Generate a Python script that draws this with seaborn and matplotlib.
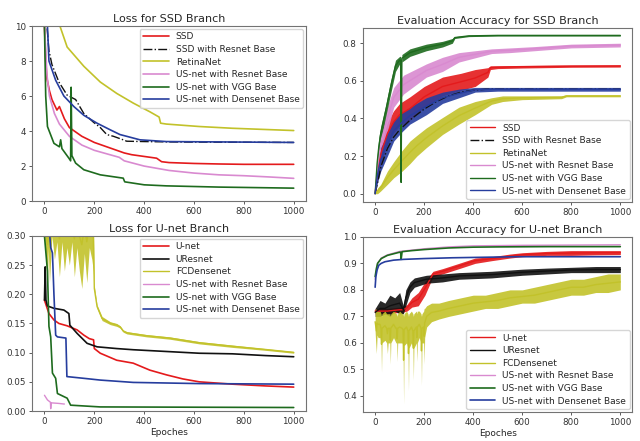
import numpy as np
import pandas as pd
import matplotlib
matplotlib.use("Agg")
import matplotlib.pyplot as plt
import seaborn as sns

# ---------------- data ----------------
top_labels = ["SSD", "SSD with Resnet Base", "RetinaNet",
              "US-net with Resnet Base", "US-net with VGG Base", "US-net with Densenet Base"]
bot_labels = ["U-net", "UResnet", "FCDensenet",
              "US-net with Resnet Base", "US-net with VGG Base", "US-net with Densenet Base"]
titles = ["Loss for SSD Branch", "Evaluation Accuracy for SSD Branch",
          "Loss for U-net Branch", "Evaluation Accuracy for U-net Branch"]
xticks = [0, 200, 400, 600, 800, 1000]

# --- Loss for SSD Branch ---
l1_ssd_x = [0, 5, 10, 20, 30, 50, 60, 80, 100, 150, 200, 250, 300, 320, 350, 400, 450, 470, 500, 600, 700, 800, 900, 1000]
l1_ssd_y = [10, 8, 7, 6.3, 5.8, 5.2, 5.4, 4.7, 4.2, 3.7, 3.35, 3.1, 2.85, 2.75, 2.65, 2.55, 2.45, 2.25, 2.2, 2.15, 2.12, 2.1, 2.1, 2.1]
l1_res_x = [0, 10, 18, 30, 58, 91, 125, 158, 197, 224, 250, 277, 316, 330, 400, 500, 600, 800, 1000]
l1_res_y = [14, 10, 8.6, 7.8, 6.8, 6.05, 5.8, 5.0, 4.5, 4.2, 3.8, 3.7, 3.5, 3.42, 3.4, 3.38, 3.37, 3.36, 3.35]
l1_ret_x = [0, 30, 62, 91, 158, 224, 290, 356, 423, 460, 466, 489, 621, 754, 1000]
l1_ret_y = [20, 13, 10, 8.8, 7.7, 6.8, 6.15, 5.6, 5.1, 4.8, 4.45, 4.4, 4.26, 4.16, 4.03]
l1_usr_x = [0, 10, 20, 40, 60, 100, 150, 200, 300, 320, 400, 500, 600, 700, 800, 900, 1000]
l1_usr_y = [10, 7.2, 6.0, 5.0, 4.4, 3.7, 3.2, 2.9, 2.5, 2.3, 2.0, 1.75, 1.6, 1.5, 1.45, 1.38, 1.3]
l1_vgg_x = [0, 5, 12, 38, 60, 65, 70, 98, 105, 107, 110, 125, 158, 224, 316, 322, 400, 489, 700, 1000]
l1_vgg_y = [10, 6.0, 4.26, 3.3, 3.1, 3.5, 3.0, 2.45, 2.3, 6.5, 2.6, 2.17, 1.79, 1.5, 1.31, 1.1, 0.93, 0.87, 0.8, 0.74]
l1_den_x = [0, 12, 18, 45, 78, 118, 158, 211, 264, 303, 330, 383, 489, 700, 1000]
l1_den_y = [14, 10, 8.0, 6.9, 6.0, 5.4, 4.9, 4.45, 4.07, 3.8, 3.7, 3.5, 3.4, 3.38, 3.35]

# --- Evaluation Accuracy for SSD Branch (noise band: low / high) ---
a1_ssd_x = [0, 10, 25, 50, 75, 100, 142, 200, 275, 350, 408, 460, 470, 500, 600, 700, 800, 1000]
a1_ssd_lo = [0.0, 0.08, 0.17, 0.26, 0.32, 0.36, 0.39, 0.46, 0.52, 0.55, 0.57, 0.62, 0.66, 0.665, 0.668, 0.67, 0.672, 0.673]
a1_ssd_hi = [0.0, 0.16, 0.27, 0.38, 0.44, 0.48, 0.515, 0.57, 0.62, 0.64, 0.66, 0.67, 0.68, 0.68, 0.682, 0.683, 0.684, 0.685]
a1_res_x = [0, 25, 50, 75, 100, 125, 150, 200, 250, 300, 350, 400, 450, 500, 600, 800, 1000]
a1_res_y = [0, 0.15, 0.24, 0.3, 0.34, 0.37, 0.4, 0.45, 0.49, 0.52, 0.54, 0.55, 0.555, 0.555, 0.555, 0.555, 0.555]
a1_ret_x = [0, 10, 23, 50, 76, 110, 142, 170, 209, 275, 342, 408, 475, 520, 600, 760, 780, 1000]
a1_ret_lo = [0.0, 0.0, 0.015, 0.05, 0.085, 0.12, 0.16, 0.2, 0.245, 0.315, 0.37, 0.42, 0.475, 0.49, 0.5, 0.505, 0.515, 0.515]
a1_ret_hi = [0.0, 0.03, 0.05, 0.12, 0.17, 0.23, 0.28, 0.31, 0.35, 0.405, 0.46, 0.49, 0.51, 0.52, 0.52, 0.52, 0.525, 0.525]
a1_usr_x = [0, 10, 25, 49, 76, 116, 209, 275, 342, 475, 550, 650, 800, 1000]
a1_usr_lo = [0.0, 0.1, 0.22, 0.33, 0.46, 0.53, 0.62, 0.65, 0.7, 0.745, 0.75, 0.76, 0.775, 0.78]
a1_usr_hi = [0.0, 0.2, 0.35, 0.46, 0.565, 0.63, 0.69, 0.725, 0.75, 0.77, 0.775, 0.782, 0.795, 0.8]
a1_vgg_x = [0, 8, 15, 23, 43, 63, 83, 100, 104, 106, 109, 142, 209, 275, 315, 325, 382, 500, 1000]
a1_vgg_lo = [0.0, 0.12, 0.2, 0.28, 0.41, 0.53, 0.65, 0.69, 0.69, 0.06, 0.7, 0.73, 0.76, 0.78, 0.8, 0.825, 0.835, 0.838, 0.838]
a1_vgg_hi = [0.0, 0.2, 0.3, 0.36, 0.47, 0.6, 0.71, 0.73, 0.73, 0.06, 0.74, 0.77, 0.795, 0.81, 0.825, 0.835, 0.843, 0.845, 0.845]
a1_den_x = [0, 10, 23, 50, 76, 110, 142, 209, 275, 342, 408, 500, 700, 1000]
a1_den_lo = [0.0, 0.06, 0.12, 0.2, 0.28, 0.33, 0.37, 0.42, 0.48, 0.51, 0.54, 0.545, 0.545, 0.545]
a1_den_hi = [0.0, 0.15, 0.245, 0.32, 0.39, 0.43, 0.46, 0.51, 0.54, 0.556, 0.565, 0.565, 0.565, 0.565]

# --- Loss for U-net Branch ---
l2_unet_x = [0, 18, 38, 58, 91, 131, 158, 180, 197, 200, 224, 290, 356, 423, 489, 555, 621, 754, 886, 1000]
l2_unet_y = [0.19, 0.167, 0.156, 0.15, 0.146, 0.139, 0.13, 0.124, 0.122, 0.107, 0.099, 0.087, 0.082, 0.07, 0.062, 0.055, 0.05, 0.046, 0.043, 0.041]
l2_ures_x = [0, 3, 6, 12, 38, 78, 98, 102, 131, 171, 211, 290, 356, 489, 621, 754, 886, 1000]
l2_ures_y = [0.19, 0.247, 0.19, 0.18, 0.176, 0.173, 0.167, 0.147, 0.133, 0.116, 0.11, 0.107, 0.105, 0.102, 0.099, 0.098, 0.095, 0.093]
l2_fcd_x = [0, 8, 12, 15, 20, 30, 40, 50, 60, 70, 80, 90, 100, 110, 120, 130, 140, 150, 160, 170, 180, 190, 196,
            200, 211, 231, 264, 290, 304, 316, 331, 410, 503, 621, 754, 886, 1000]
l2_fcd_lo = [0.30, 0.24, 0.21, 0.28, 0.22, 0.30, 0.26, 0.29, 0.23, 0.29, 0.24, 0.28, 0.25, 0.29, 0.23, 0.28, 0.24, 0.21, 0.27, 0.22, 0.28, 0.26, 0.24,
             0.205, 0.176, 0.155, 0.148, 0.145, 0.142, 0.135, 0.132, 0.127, 0.123, 0.115, 0.109, 0.104, 0.099]
l2_fcd_hi = [0.36, 0.36, 0.36, 0.36, 0.36, 0.36, 0.36, 0.36, 0.36, 0.36, 0.36, 0.36, 0.36, 0.36, 0.36, 0.36, 0.36, 0.36, 0.36, 0.36, 0.36, 0.36, 0.36,
             0.215, 0.182, 0.162, 0.153, 0.15, 0.146, 0.139, 0.136, 0.131, 0.127, 0.119, 0.113, 0.107, 0.102]
l2_usr_x = [0, 12, 24, 25, 27, 58, 78, 80]
l2_usr_y = [0.027, 0.019, 0.015, 0.004, 0.014, 0.013, 0.012, 0.012]
l2_vgg_x = [0, 12, 18, 25, 32, 45, 52, 91, 105, 224, 1000]
l2_vgg_y = [0.30, 0.24, 0.145, 0.127, 0.065, 0.056, 0.03, 0.022, 0.01, 0.007, 0.006]
l2_den_x = [18, 25, 32, 38, 45, 52, 86, 90, 158, 224, 356, 621, 1000]
l2_den_y = [0.32, 0.28, 0.271, 0.2, 0.13, 0.127, 0.125, 0.059, 0.056, 0.053, 0.049, 0.047, 0.046]

# --- Evaluation Accuracy for U-net Branch ---
a2_unet_x = [0, 50, 100, 110, 130, 150, 176, 203, 236, 275, 342, 408, 475, 550, 600, 700, 800, 900, 1000]
a2_unet_lo = [0.71, 0.71, 0.715, 0.715, 0.72, 0.735, 0.74, 0.78, 0.85, 0.86, 0.88, 0.9, 0.91, 0.92, 0.925, 0.93, 0.93, 0.932, 0.933]
a2_unet_hi = [0.73, 0.73, 0.735, 0.735, 0.745, 0.77, 0.79, 0.83, 0.87, 0.88, 0.9, 0.92, 0.925, 0.935, 0.94, 0.945, 0.948, 0.948, 0.948]
a2_ures_x = [0, 20, 40, 60, 80, 100, 115, 125, 142, 160, 209, 275, 342, 475, 600, 700, 800, 900, 1000]
a2_ures_lo = [0.70, 0.70, 0.71, 0.70, 0.72, 0.71, 0.71, 0.74, 0.79, 0.81, 0.825, 0.83, 0.84, 0.845, 0.855, 0.86, 0.865, 0.865, 0.865]
a2_ures_hi = [0.73, 0.76, 0.75, 0.78, 0.77, 0.79, 0.74, 0.8, 0.83, 0.845, 0.855, 0.86, 0.865, 0.87, 0.878, 0.882, 0.885, 0.888, 0.888]
a2_fcd_x = [0, 5, 8, 12, 20, 24, 26, 28, 40, 47, 50, 53, 60, 62, 64, 75, 85, 88, 90, 92, 100, 110, 114, 116, 118,
            128, 134, 136, 138, 148, 154, 156, 158, 168, 170, 172, 180, 187, 189, 191, 198, 200, 202,
            210, 230, 260, 300, 350, 400, 450, 500, 550, 600, 650, 700, 750, 800, 850, 900, 950, 1000]
a2_fcd_lo = [0.64, 0.56, 0.63, 0.62, 0.62, 0.6, 0.49, 0.6, 0.61, 0.6, 0.56, 0.6, 0.6, 0.52, 0.6, 0.62, 0.6, 0.6, 0.53, 0.6,
             0.6, 0.6, 0.59, 0.37, 0.59, 0.6, 0.58, 0.42, 0.58, 0.6, 0.58, 0.46, 0.58, 0.6, 0.53, 0.6, 0.62, 0.6, 0.44, 0.6,
             0.6, 0.52, 0.62, 0.66, 0.68, 0.69, 0.7, 0.71, 0.72, 0.73, 0.73, 0.74, 0.75, 0.75, 0.76, 0.77, 0.78, 0.78,
             0.79, 0.79, 0.8]
a2_fcd_hi = [0.72, 0.73, 0.72, 0.72, 0.72, 0.71, 0.7, 0.71, 0.72, 0.71, 0.71, 0.71, 0.71, 0.7, 0.71, 0.72, 0.71, 0.71, 0.7, 0.71,
             0.72, 0.71, 0.71, 0.7, 0.71, 0.72, 0.71, 0.7, 0.71, 0.72, 0.71, 0.7, 0.71, 0.72, 0.71, 0.72, 0.72, 0.71, 0.7, 0.71,
             0.72, 0.73, 0.73, 0.74, 0.75, 0.75, 0.76, 0.77, 0.78, 0.78, 0.79, 0.8, 0.8, 0.81, 0.82, 0.83, 0.84, 0.84,
             0.85, 0.86, 0.86]
a2_usr_x = [0, 10, 25, 50, 100, 200, 300, 400, 600, 800, 1000]
a2_usr_y = [0.84, 0.9, 0.92, 0.932, 0.945, 0.955, 0.962, 0.966, 0.968, 0.969, 0.97]
a2_vgg_x = [0, 5, 10, 25, 50, 100, 104, 106, 110, 150, 200, 300, 400, 500, 700, 1000]
a2_vgg_y = [0.85, 0.88, 0.9, 0.918, 0.93, 0.942, 0.942, 0.915, 0.944, 0.948, 0.952, 0.958, 0.961, 0.962, 0.963, 0.963]
a2_den_x = [0, 3, 8, 15, 25, 40, 75, 116, 200, 315, 450, 581, 800, 1000]
a2_den_y = [0.81, 0.85, 0.875, 0.893, 0.9, 0.906, 0.912, 0.915, 0.918, 0.921, 0.923, 0.925, 0.925, 0.925]

# ---------------- style ----------------
C_RED = "#e41a1c"
C_BLK = "#111111"
C_YEL = "#c2c22a"
C_PNK = "#d98ad0"
C_GRN = "#1e6b1e"
C_BLU = "#263d9e"

sns.set_style("white")
plt.rcParams["font.family"] = ["DejaVu Sans"]
plt.rcParams["font.size"] = 6

fig = plt.figure(figsize=(6.4, 4.41), dpi=100)
pos = [[0.05, 0.544, 0.428, 0.397],
       [0.567, 0.542, 0.421, 0.395],
       [0.05, 0.068, 0.428, 0.397],
       [0.567, 0.066, 0.421, 0.397]]
axes = [fig.add_axes(p) for p in pos]


def line(ax, x, y, color, label, lw=1.0, ls="-"):
    sns.lineplot(x=x, y=y, ax=ax, color=color, lw=lw, linestyle=ls,
                 label=label, estimator=None)


def band(ax, x, lo, hi, color, label, lw=1.0):
    df = pd.DataFrame({"x": list(x) + list(x), "y": list(lo) + list(hi)})
    sns.lineplot(data=df, x="x", y="y", ax=ax, color=color, lw=lw, label=label,
                 errorbar=("pi", 100), err_kws={"alpha": 0.9, "linewidth": 0})


ax = axes[0]
line(ax, l1_ssd_x, l1_ssd_y, C_RED, top_labels[0], 1.2)
line(ax, l1_res_x, l1_res_y, C_BLK, top_labels[1], 1.0, "-.")
line(ax, l1_ret_x, l1_ret_y, C_YEL, top_labels[2], 1.2)
line(ax, l1_usr_x, l1_usr_y, C_PNK, top_labels[3], 1.2)
line(ax, l1_vgg_x, l1_vgg_y, C_GRN, top_labels[4], 1.2)
line(ax, l1_den_x, l1_den_y, C_BLU, top_labels[5], 1.2)
ax.set_ylim(0, 10)
ax.set_yticks([0, 2, 4, 6, 8, 10])

ax = axes[1]
band(ax, a1_ssd_x, a1_ssd_lo, a1_ssd_hi, C_RED, top_labels[0])
line(ax, a1_res_x, a1_res_y, C_BLK, top_labels[1], 1.0, "-.")
band(ax, a1_ret_x, a1_ret_lo, a1_ret_hi, C_YEL, top_labels[2])
band(ax, a1_usr_x, a1_usr_lo, a1_usr_hi, C_PNK, top_labels[3])
band(ax, a1_vgg_x, a1_vgg_lo, a1_vgg_hi, C_GRN, top_labels[4])
band(ax, a1_den_x, a1_den_lo, a1_den_hi, C_BLU, top_labels[5])
ax.set_ylim(-0.044, 0.882)
ax.set_yticks([0.0, 0.2, 0.4, 0.6, 0.8])

ax = axes[2]
line(ax, l2_unet_x, l2_unet_y, C_RED, bot_labels[0], 1.2)
line(ax, l2_ures_x, l2_ures_y, C_BLK, bot_labels[1], 1.2)
band(ax, l2_fcd_x, l2_fcd_lo, l2_fcd_hi, C_YEL, bot_labels[2])
line(ax, l2_usr_x, l2_usr_y, C_PNK, bot_labels[3], 1.0)
line(ax, l2_vgg_x, l2_vgg_y, C_GRN, bot_labels[4], 1.2)
line(ax, l2_den_x, l2_den_y, C_BLU, bot_labels[5], 1.2)
ax.set_ylim(0, 0.30)
ax.set_yticks([0.0, 0.05, 0.10, 0.15, 0.20, 0.25, 0.30])
ax.set_yticklabels(["0.00", "0.05", "0.10", "0.15", "0.20", "0.25", "0.30"])

ax = axes[3]
band(ax, a2_unet_x, a2_unet_lo, a2_unet_hi, C_RED, bot_labels[0])
band(ax, a2_ures_x, a2_ures_lo, a2_ures_hi, C_BLK, bot_labels[1])
band(ax, a2_fcd_x, a2_fcd_lo, a2_fcd_hi, C_YEL, bot_labels[2])
line(ax, a2_usr_x, a2_usr_y, C_PNK, bot_labels[3], 1.0)
line(ax, a2_vgg_x, a2_vgg_y, C_GRN, bot_labels[4], 1.2)
line(ax, a2_den_x, a2_den_y, C_BLU, bot_labels[5], 1.2)
ax.set_ylim(0.34, 1.0)
ax.set_yticks([0.4, 0.5, 0.6, 0.7, 0.8, 0.9, 1.0])

locs = ["upper right", "lower right", "upper right", "lower right"]
for i, ax in enumerate(axes):
    ax.set_xlim(-50, 1049)
    ax.set_xticks(xticks)
    ax.set_title(titles[i], fontsize=8, pad=3)
    ax.set_ylabel("")
    ax.set_xlabel("Epoches" if i >= 2 else "", fontsize=6.5, labelpad=1)
    ax.tick_params(axis="both", labelsize=6.3, length=2.5, width=0.6, pad=2,
                   direction="out", left=True, bottom=True, colors="0.25", labelcolor="0.2")
    for s in ax.spines.values():
        s.set_color("0.45")
        s.set_linewidth(0.8)
    ax.legend(loc=locs[i], fontsize=6.5, handlelength=2.8, borderaxespad=0.3,
              labelspacing=0.4, frameon=True)

fig.savefig("out.png", dpi=100)
